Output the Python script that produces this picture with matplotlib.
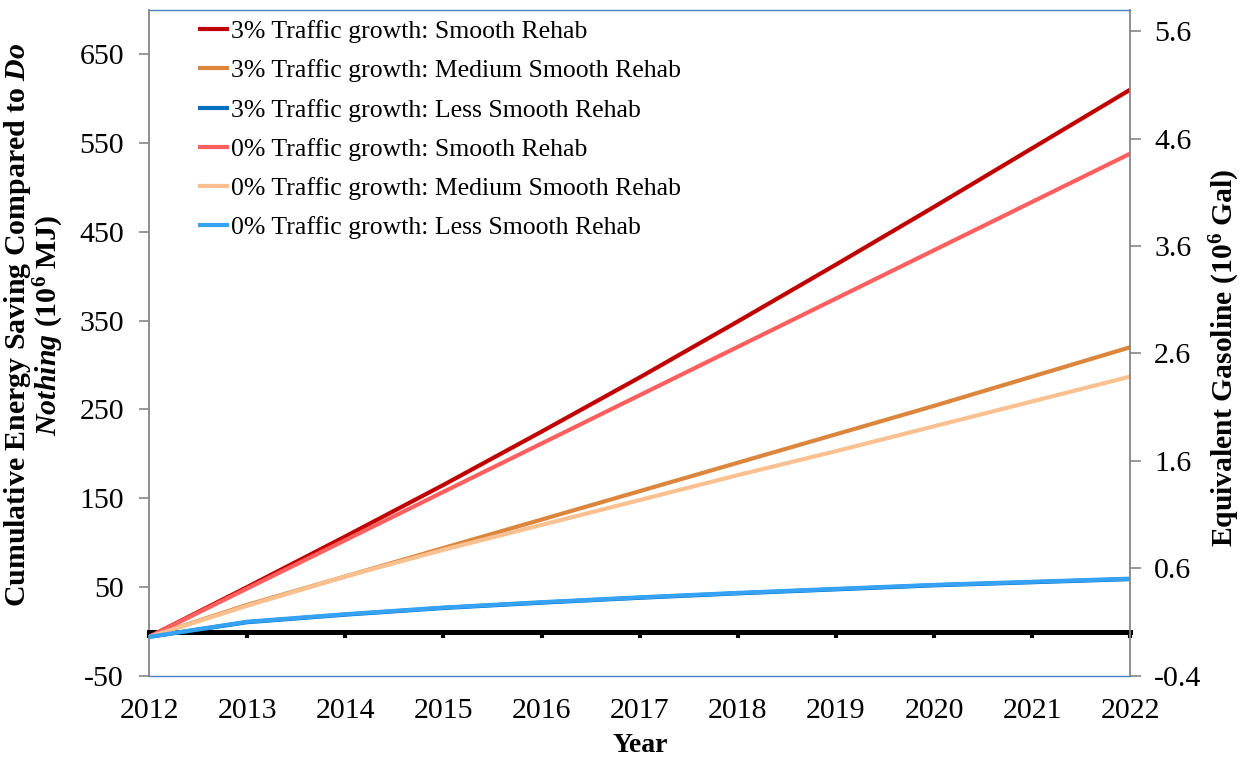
import numpy as np
import matplotlib.pyplot as plt

# Times-like serif for everything, bold/italic pieces through mathtext
plt.rcParams['font.family'] = ['Liberation Serif', 'DejaVu Serif']
plt.rcParams['mathtext.fontset'] = 'custom'
plt.rcParams['mathtext.rm'] = 'Liberation Serif:bold'
plt.rcParams['mathtext.it'] = 'Liberation Serif:italic:bold'
plt.rcParams['mathtext.bf'] = 'Liberation Serif:bold'
plt.rcParams['axes.unicode_minus'] = False

# cumulative energy saving vs. Do Nothing (10^6 MJ)
years = [2012, 2013, 2014, 2015, 2016, 2017, 2018, 2019, 2020, 2021, 2022]
smooth_3 = [-6, 50, 107, 165, 225, 286, 349, 413, 478, 544, 610]
medium_3 = [-6, 30, 62, 94, 126, 158, 190, 222, 254, 287, 320]
less_3 = [-6, 10.5, 19, 26.5, 32.5, 38, 43, 47.5, 52, 55.5, 59]
smooth_0 = [-6, 48.4, 102.8, 157.2, 211.6, 266, 320.4, 374.8, 429.2, 483.6, 538]
medium_0 = [-6, 29, 62, 92, 120, 148, 176, 203, 231, 259, 287]
less_0 = [-6, 11, 19.5, 27, 33, 38.5, 43.5, 48, 52.5, 56, 59.5]

series = [smooth_3, medium_3, less_3, smooth_0, medium_0, less_0]
labels = ['3% Traffic growth: Smooth Rehab',
          '3% Traffic growth: Medium Smooth Rehab',
          '3% Traffic growth: Less Smooth Rehab',
          '0% Traffic growth: Smooth Rehab',
          '0% Traffic growth: Medium Smooth Rehab',
          '0% Traffic growth: Less Smooth Rehab']
colors = ['#C00000', '#DC853D', '#0070C0', '#FF5F5F', '#FAC090', '#35A2F5']

mj_ticks = [-50, 50, 150, 250, 350, 450, 550, 650]
gal_ticks = [-0.4, 0.6, 1.6, 2.6, 3.6, 4.6, 5.6]

fig = plt.figure(figsize=(12.49, 7.62), dpi=100)
ax = fig.add_axes([0.1193, 0.1129, 0.7858, 0.8746])

for vals, lab, col in zip(series, labels, colors):
    ax.plot(years, vals, color=col, lw=3.0, label=lab, zorder=3,
            solid_capstyle='butt')

ax.set_xlim(2012, 2022)
ax.set_ylim(-50, 700)
ax.set_xticks(years)
ax.set_yticks(mj_ticks)

# horizontal axis crosses at zero, labels stay at the bottom
ax.spines['bottom'].set_position(('data', 0))
ax.spines['bottom'].set_color('black')
ax.spines['bottom'].set_linewidth(3.6)
ax.spines['top'].set_visible(False)
ax.spines['right'].set_visible(False)
ax.spines['left'].set_color('#868686')
ax.spines['left'].set_linewidth(1.3)
ax.tick_params(axis='x', direction='out', length=4.5, width=3, color='black',
               pad=43, labelsize=21.5)
ax.tick_params(axis='y', direction='out', length=7, width=1.2, color='#868686',
               pad=11, labelsize=21.5)

# secondary axis in gallons of gasoline
ax2 = ax.twinx()
ax2.set_ylim(-0.4, 5.8)
ax2.set_yticks(gal_ticks)
ax2.set_yticklabels([f'{v:.1f}' for v in gal_ticks])
ax2.tick_params(axis='y', direction='out', length=8, width=1.2, color='#868686',
                pad=9, labelsize=21.5)
ax2.spines['left'].set_visible(False)
ax2.spines['right'].set_color('#868686')
ax2.spines['right'].set_linewidth(1.3)
for side in ['top', 'bottom']:
    ax2.spines[side].set_color('#4F81BD')
    ax2.spines[side].set_linewidth(1.0)

ax.legend(loc='upper left', bbox_to_anchor=(0.05, 0.984), frameon=False,
          fontsize=18.5, handlelength=1.2, handletextpad=0.1, labelspacing=0.63,
          borderaxespad=0, borderpad=0)

fig.text(34 / 1249, 1 - 325 / 762,
         'Cumulative Energy Saving Compared to $\\it{Do}$\n$\\it{Nothing}$ (10$^{6}$ MJ)',
         rotation=90, ha='center', va='center', multialignment='center',
         fontsize=21.5, fontweight='bold', linespacing=0.95)
fig.text(1225 / 1249, 1 - 358 / 762, 'Equivalent Gasoline (10$^{6}$ Gal)',
         rotation=90, ha='center', va='center', fontsize=21.3, fontweight='bold')
fig.text(640 / 1249, 1 - 746 / 762, 'Year', ha='center', va='center',
         fontsize=20, fontweight='bold')

fig.savefig('out.png', dpi=100)
